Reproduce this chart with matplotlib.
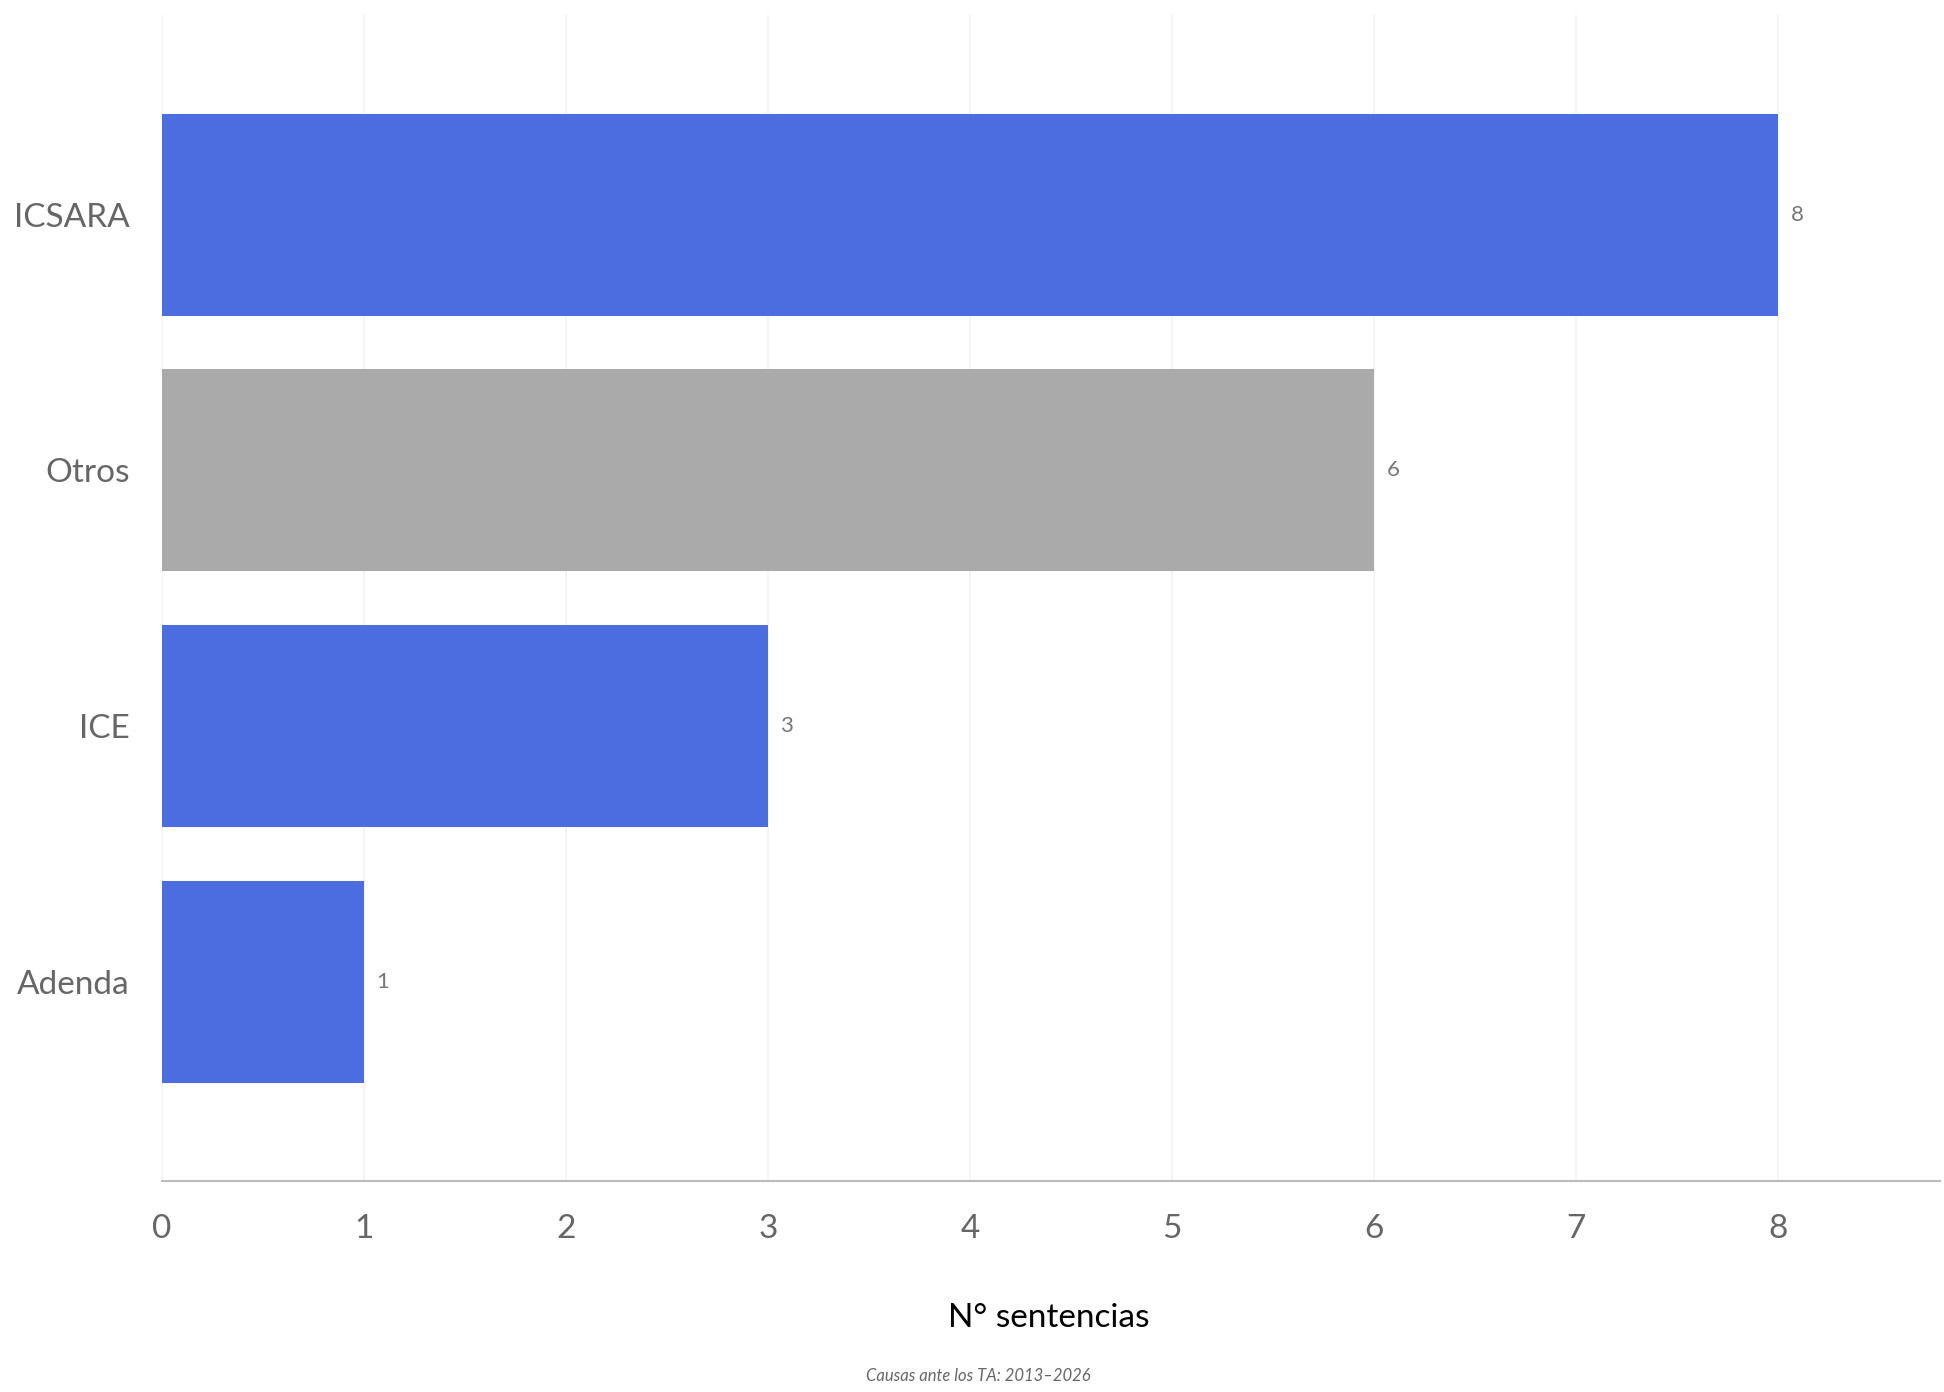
import matplotlib.pyplot as plt

# datos
categorias = ["Adenda", "ICE", "Otros", "ICSARA"]
sentencias = [1, 3, 6, 8]
colores = ["#4B6DE0", "#4B6DE0", "#AAAAAA", "#4B6DE0"]

plt.rcParams['font.family'] = ['Lato', 'DejaVu Sans']

fig = plt.figure(figsize=(19.44, 13.92), dpi=100)
ax = fig.add_axes([0.0833, 0.1516, 0.9147, 0.8374])

pos = range(len(categorias))
ax.barh(pos, sentencias, height=0.79, color=colores, zorder=2)

for y, v in zip(pos, sentencias):
    ax.text(v + 0.06, y, str(v), va='center', ha='left', fontsize=16, color='#777777')

ax.set_xlim(0, 8.8)
ax.set_ylim(-0.78, 3.78)
ax.set_xticks(range(0, 9))
ax.set_yticks(list(pos))
ax.set_yticklabels(categorias)

ax.grid(axis='x', color='#F2F2F2', linewidth=1.2, zorder=0)
ax.grid(axis='y', visible=False)
for s in ['top', 'right', 'left']:
    ax.spines[s].set_visible(False)
ax.spines['bottom'].set_color('#BBBBBB')
ax.spines['bottom'].set_linewidth(1.5)

ax.tick_params(axis='x', length=0, pad=24, labelsize=24, labelcolor='#666666')
ax.tick_params(axis='y', length=0, pad=23, labelsize=24, labelcolor='#666666')

fig.text(0.5395, 1 - 1318 / 1392, "N° sentencias", ha='center', va='center',
         fontsize=24, color='black')
fig.text(0.5035, 1 - 1376 / 1392, "Causas ante los TA: 2013–2026", ha='center', va='center',
         fontsize=12, style='italic', color='#666666')

fig.savefig("out.png", dpi=100)
plt.close(fig)
